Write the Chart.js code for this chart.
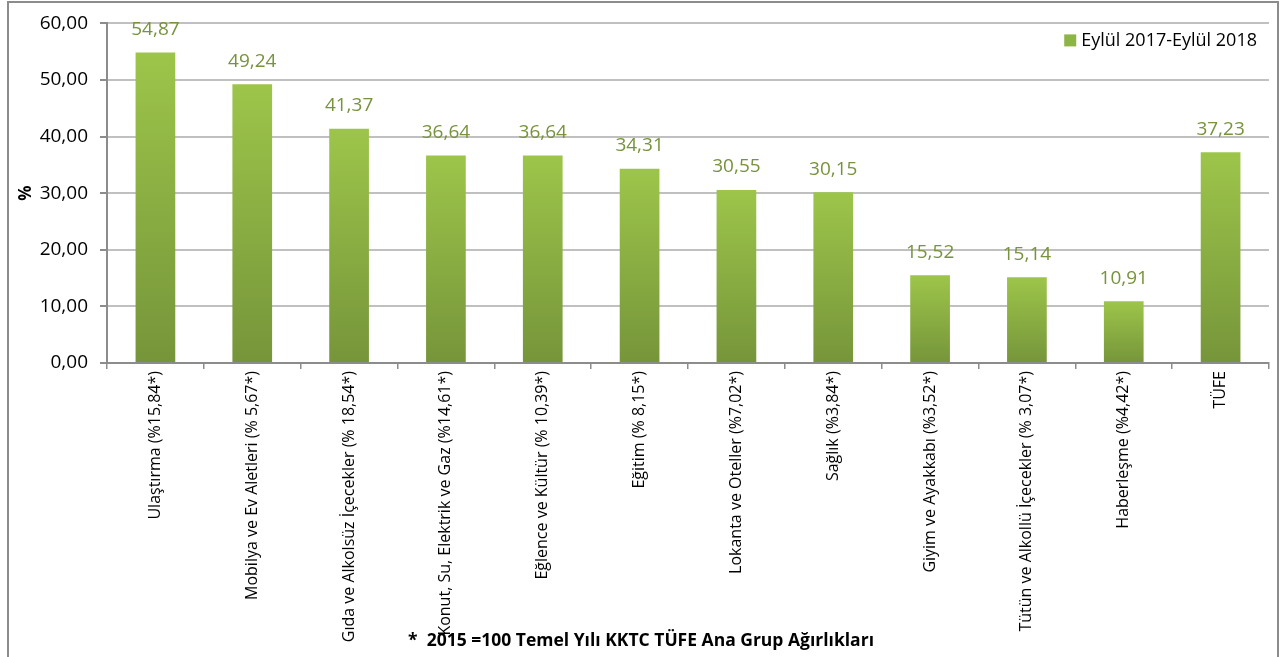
<!DOCTYPE html>
<html>
  <head>
    <title>TÜFE</title>
    <script src="https://cdn.jsdelivr.net/npm/chart.js"></script>
    <style>
      body { margin: 0; background: #fff; }
      #kutu { position: relative; width: 1282px; height: 657px; }
      #cerceve { position: absolute; left: 7px; top: 1px; width: 1272px; height: 700px; border: 2px solid #8c8c8c; box-sizing: border-box; pointer-events: none; }
    </style>
  </head>

  <body>
    <div id="kutu">
      <canvas id="grafik" width="1282" height="657"></canvas>
      <div id="cerceve"></div>
    </div>

    <script>
      var kategoriler = [
        "Ulaştırma (%15,84*)",
        "Mobilya ve Ev Aletleri (% 5,67*)",
        "Gıda ve Alkolsüz İçecekler (% 18,54*)",
        "Konut, Su, Elektrik ve Gaz (%14,61*)",
        "Eğlence ve Kültür (% 10,39*)",
        "Eğitim (% 8,15*)",
        "Lokanta ve Oteller (%7,02*)",
        "Sağlık (%3,84*)",
        "Giyim ve Ayakkabı (%3,52*)",
        "Tütün ve Alkollü İçecekler (% 3,07*)",
        "Haberleşme (%4,42*)",
        "TÜFE",
      ];
      var degisim = [54.87, 49.24, 41.37, 36.64, 36.64, 34.31, 30.55, 30.15, 15.52, 15.14, 10.91, 37.23];
      var seriAdi = "Eylül 2017-Eylül 2018";
      var dipnot = "*  2015 =100 Temel Yılı KKTC TÜFE Ana Grup Ağırlıkları";

      function virgul(v) {
        return v.toFixed(2).replace(".", ",");
      }

      function barRengi(ctx) {
        var chart = ctx.chart;
        if (!chart.chartArea || ctx.dataIndex == null) return "#8CB043";
        var y = chart.scales.y;
        var ust = y.getPixelForValue(degisim[ctx.dataIndex]);
        var alt = y.getPixelForValue(0);
        var g = chart.ctx.createLinearGradient(0, ust, 0, alt);
        g.addColorStop(0, "#9DC54A");
        g.addColorStop(1, "#76953A");
        return g;
      }

      // veri etiketleri, lejant ve dipnot
      var etiketler = {
        id: "etiketler",
        afterDatasetsDraw(chart) {
          var c = chart.ctx;
          var alan = chart.chartArea;
          var meta = chart.getDatasetMeta(0);
          c.save();
          c.font = "19px 'Open Sans'";
          c.fillStyle = "#77933C";
          c.textAlign = "center";
          c.textBaseline = "middle";
          meta.data.forEach((bar, i) => {
            c.fillText(virgul(degisim[i]), bar.x, bar.y - 23);
          });

          c.font = "18px 'Open Sans'";
          c.fillStyle = "#000";
          c.textAlign = "right";
          var sag = alan.right - 12;
          var w = c.measureText(seriAdi).width;
          c.fillText(seriAdi, sag, alan.top + 17);
          c.fillStyle = "#8DB545";
          c.fillRect(sag - w - 17, alan.top + 11, 12, 12);

          c.font = "bold 17.5px 'Open Sans'";
          c.fillStyle = "#000";
          c.textAlign = "center";
          c.fillText(dipnot, 641, 641);
          c.restore();
        },
      };

      var grafik = new Chart(document.getElementById("grafik").getContext("2d"), {
        type: "bar",
        data: {
          labels: kategoriler,
          datasets: [
            {
              label: seriAdi,
              data: degisim,
              backgroundColor: barRengi,
              barPercentage: 0.41,
              categoryPercentage: 1,
            },
          ],
        },
        options: {
          responsive: false,
          animation: false,
          layout: { padding: { top: 17, right: 13, left: 0, bottom: 0 } },
          plugins: {
            tooltip: { enabled: false },
            legend: { display: false },
          },
          scales: {
            x: {
              grid: { display: true, drawOnChartArea: false, offset: true, tickLength: 6, color: "#8c8c8c", lineWidth: 1.5 },
              border: { color: "#8c8c8c", width: 2 },
              ticks: {
                minRotation: 90,
                maxRotation: 90,
                autoSkip: false,
                padding: 2,
                color: "#000",
                font: { family: "'Open Sans'", size: 16 },
              },
              afterFit(s) { s.height = 294; },
            },
            y: {
              min: 0,
              max: 60,
              ticks: {
                stepSize: 10,
                padding: 12,
                color: "#000",
                font: { family: "'Open Sans'", size: 19 },
                callback: (v) => virgul(v),
              },
              grid: { color: "#c0c0c0", lineWidth: 2, tickLength: 7, tickColor: "#8c8c8c" },
              border: { color: "#8c8c8c", width: 2 },
              title: {
                display: true,
                text: "%",
                color: "#000",
                font: { family: "'Open Sans'", size: 17, weight: "bold" },
                padding: { top: 16, bottom: 0 },
              },
              afterFit(s) { s.width = 107; },
            },
          },
        },
        plugins: [etiketler],
      });
    </script>
  </body>
</html>
